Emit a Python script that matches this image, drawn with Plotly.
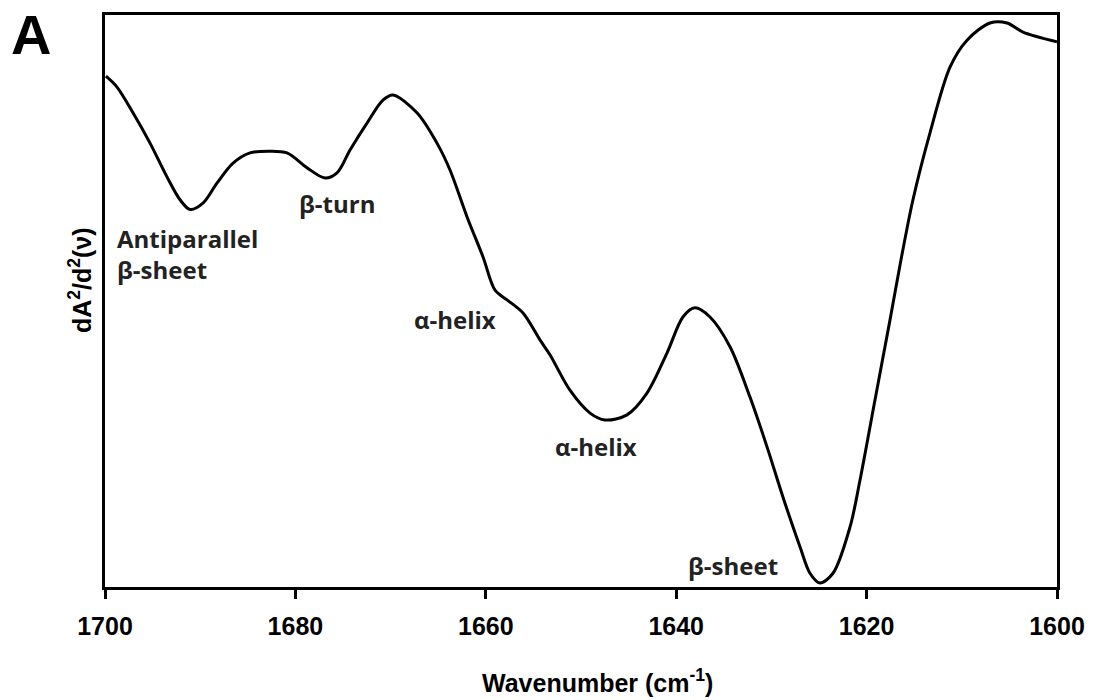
import plotly.graph_objects as go

wavenumber = [1699.9, 1698.74, 1697.06, 1695.27, 1693.49, 1692.12, 1691.07, 1689.71, 1688.24,
              1686.55, 1684.77, 1682.67, 1680.88, 1678.78, 1676.89, 1675.63, 1674.26, 1672.48,
              1670.80, 1669.75, 1667.23, 1665.13, 1663.76, 1661.97, 1660.29, 1659.03, 1657.77,
              1656.09, 1654.31, 1653.26, 1651.16, 1649.05, 1647.48, 1645.17, 1643.07, 1640.97,
              1639.29, 1638.03, 1636.45, 1634.35, 1632.25, 1630.46, 1628.78, 1626.99, 1625.95,
              1624.90, 1623.53, 1621.74, 1620.69, 1619.12, 1617.54, 1616.49, 1615.13, 1613.34,
              1611.24, 1609.45, 1607.04, 1605.25, 1603.57, 1600.0]
signal = [89.3, 87.4, 82.9, 77.6, 71.7, 67.7, 66.0, 67.1, 70.6,
          74.1, 75.9, 76.2, 75.9, 73.3, 71.5, 72.4, 76.4, 81.1,
          85.1, 86.0, 82.9, 77.6, 72.9, 64.7, 57.7, 51.9, 50.2,
          47.9, 43.2, 40.6, 34.4, 30.4, 29.2, 30.1, 33.9, 40.9,
          47.2, 48.8, 47.2, 42.0, 33.2, 24.5, 15.7, 7.0, 2.4,
          0.7, 2.4, 10.5, 18.7, 32.7, 46.7, 56.3, 67.7, 79.4,
          90.9, 95.6, 98.6, 98.6, 97.0, 95.3]

tick_values = [1700, 1680, 1660, 1640, 1620, 1600]
tick_labels = ["1700", "1680", "1660", "1640", "1620", "1600"]

label_texts = ["Antiparallel<br>β-sheet", "β-turn", "α-helix", "α-helix", "β-sheet"]
label_x = [1698.95, 1675.6, 1663.2, 1648.4, 1634.0]
label_y = [58.2, 67.1, 46.7, 24.5, 3.8]
label_anchor = ["left", "center", "center", "center", "center"]

fig = go.Figure()
fig.add_trace(go.Scatter(x=wavenumber, y=signal, mode="lines",
                         line=dict(color="black", width=3, shape="spline", smoothing=0.9),
                         showlegend=False, hoverinfo="skip"))

for t, x, y, a in zip(label_texts, label_x, label_y, label_anchor):
    fig.add_annotation(x=x, y=y, text=t, showarrow=False, xanchor=a, yanchor="middle",
                       align="left",
                       font=dict(family="Open Sans, Noto Sans, sans-serif", size=24,
                                 color="#222", weight="bold"))

fig.add_annotation(xref="paper", yref="paper", x=(597 - 105) / 952, y=(587 - 681) / 572,
                   text="Wavenumber (cm<sup>-1</sup>)", showarrow=False,
                   xanchor="center", yanchor="middle",
                   font=dict(family="Liberation Sans, Arial", size=25, color="black", weight="bold"))
fig.add_annotation(xref="paper", yref="paper", x=(80 - 105) / 952, y=(587 - 280) / 572,
                   text="dA<sup>2</sup>/d<sup>2</sup>(ν)", showarrow=False, textangle=-90,
                   xanchor="center", yanchor="middle",
                   font=dict(family="Liberation Sans, Arial", size=25, color="black", weight="bold"))
fig.add_annotation(xref="paper", yref="paper", x=(31 - 105) / 952, y=(587 - 34) / 572,
                   text="A", showarrow=False, xanchor="center", yanchor="middle",
                   font=dict(family="Liberation Sans, Arial", size=56, color="black", weight="bold"))

fig.update_layout(
    width=1111, height=700,
    margin=dict(l=105, r=54, t=15, b=113),
    paper_bgcolor="white", plot_bgcolor="white",
    xaxis=dict(range=[1700, 1600], tickvals=tick_values, ticktext=tick_labels,
               showline=True, linecolor="black", linewidth=3, mirror=True,
               ticks="outside", ticklen=9, tickwidth=3, tickcolor="black",
               ticklabelstandoff=6,
               showgrid=False, zeroline=False,
               tickfont=dict(family="Liberation Sans, Arial", size=25, color="black", weight="bold")),
    yaxis=dict(range=[0, 100], showline=True, linecolor="black", linewidth=3, mirror=True,
               showticklabels=False, ticks="", showgrid=False, zeroline=False),
)

fig.write_html("out.html", config={"displayModeBar": False},
               post_script="document.body.style.margin='0';document.body.style.overflow='hidden';")
